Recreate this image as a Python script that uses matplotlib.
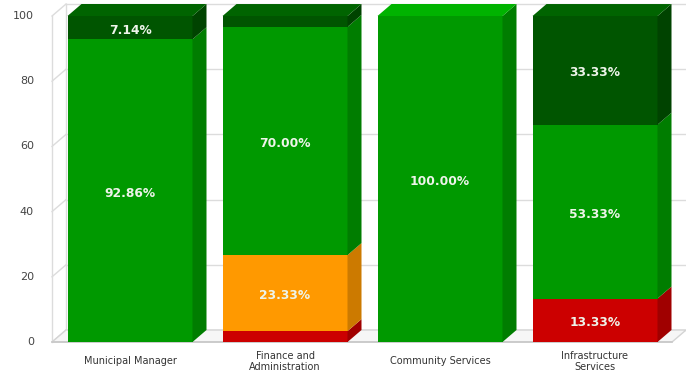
import numpy as np
import matplotlib.pyplot as plt
from matplotlib.patches import Polygon

# departamentos e percentuais por status (de baixo para cima)
categorias = ["Municipal Manager", "Finance and\nAdministration",
              "Community Services", "Infrastructure\nServices"]
vermelho = [0.0, 3.33, 0.0, 13.33]
laranja = [0.0, 23.33, 0.0, 0.0]
verde = [92.86, 70.00, 100.00, 53.33]
verde_escuro = [7.14, 3.33, 0.0, 33.33]

# cores: frente, lateral, topo
series = [
    (vermelho, ("#cc0000", "#a00000", "#e03333")),
    (laranja, ("#ff9900", "#cc7a00", "#ffb84d")),
    (verde, ("#009900", "#007d00", "#00b300")),
    (verde_escuro, ("#005500", "#004300", "#006400")),
]
mostrar_rotulo = 5.0  # segmentos menores ficam sem rótulo

W, H = 686, 372
fig = plt.figure(figsize=(W / 100, H / 100), dpi=100)
ax = fig.add_axes([0, 0, 1, 1])
ax.set_axis_off()

# escala: cada categoria ocupa 155 px, 100% ocupa 326 px
px_x, px_y = 155.0, 3.26
x0_px, y0_px = 130.0, 30.0
ax.set_xlim(-x0_px / px_x, (W - x0_px) / px_x)
ax.set_ylim(-y0_px / px_y, (H - y0_px) / px_y)

dx = 14 / px_x        # profundidade 3D
dy = 12 / px_y
largura = 125 / px_x
xl, xr = -0.503, 3.497
grade = "#dcdcdc"
ticks = [0, 20, 40, 60, 80, 100]

# parede do fundo, parede esquerda e piso
for t in ticks:
    ax.plot([xl + dx, xr + dx + 1], [t + dy, t + dy], color=grade, lw=1, zorder=1)
    ax.plot([xl, xl + dx], [t, t + dy], color=grade, lw=1, zorder=1)
ax.plot([xl, xl], [0, 100], color=grade, lw=1, zorder=1)
ax.plot([xl + dx, xl + dx], [dy, 100 + dy], color=grade, lw=1, zorder=1)
ax.add_patch(Polygon([(xl, 0), (xr, 0), (xr + dx, dy), (xl + dx, dy)],
                     closed=True, facecolor="#f6f6f6", edgecolor="#d4d4d4",
                     lw=1, zorder=1))
ax.plot([xl, xr], [0, 0], color="#c8c8c8", lw=1.2, zorder=1)

for t in ticks:
    ax.text((34 - x0_px) / px_x, t, str(t), ha="right", va="center",
            fontsize=8, color="#444444")

x = np.arange(len(categorias))
base = np.zeros(len(categorias))
topo = np.array([v1 + v2 + v3 + v4 for v1, v2, v3, v4
                 in zip(vermelho, laranja, verde, verde_escuro)])

for valores, (c_frente, c_lado, c_topo) in series:
    valores = np.array(valores)
    ax.bar(x, valores, bottom=base, width=largura, color=c_frente,
           linewidth=0, zorder=3)
    for i, v in enumerate(valores):
        if v <= 0:
            continue
        b = base[i]
        xd = x[i] + largura / 2
        ax.add_patch(Polygon([(xd, b), (xd + dx, b + dy), (xd + dx, b + v + dy),
                              (xd, b + v)], closed=True, facecolor=c_lado,
                             lw=0, zorder=3))
        if np.isclose(b + v, topo[i]):
            xe = x[i] - largura / 2
            ax.add_patch(Polygon([(xe, b + v), (xd, b + v), (xd + dx, b + v + dy),
                                  (xe + dx, b + v + dy)], closed=True,
                                 facecolor=c_topo, lw=0, zorder=3))
        if v >= mostrar_rotulo:
            ax.text(x[i], b + v / 2 - 0.8, f"{v:.2f}%", ha="center", va="center",
                    fontsize=8.8, fontweight="bold", color="#eef4ea", zorder=4)
    base = base + valores

for i, nome in enumerate(categorias):
    ax.text(x[i], -5.9, nome, ha="center", va="center", fontsize=7,
            color="#333333", linespacing=1.1)

fig.savefig("out.png", dpi=100)
